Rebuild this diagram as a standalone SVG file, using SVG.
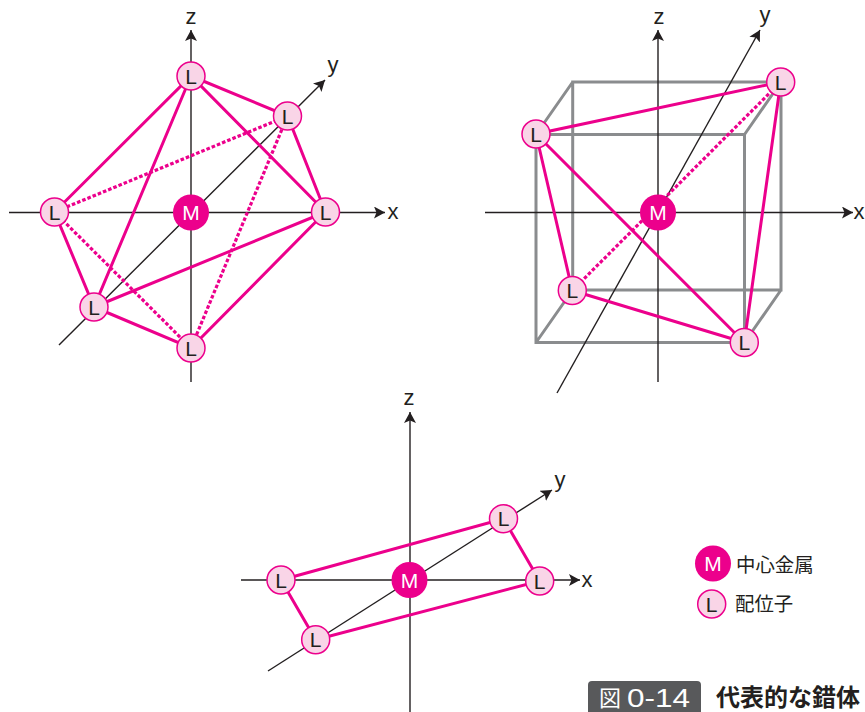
<svg xmlns="http://www.w3.org/2000/svg" width="865" height="712" viewBox="0 0 865 712">
<style>
.ax{stroke:#231f20;stroke-width:1.4;fill:none}
.b{stroke:#ec008c;stroke-width:3;fill:none}
.d{stroke:#ec008c;stroke-width:3.2;fill:none;stroke-dasharray:3.6 2}
.c{stroke:#8a8c8e;stroke-width:3;fill:none}
.l circle{fill:#f9d5e7;stroke:#ec008c;stroke-width:1.5}
.m circle{fill:#ec008c}
.l text{font-size:21px;fill:#231f20;font-family:"Liberation Sans",sans-serif;text-anchor:middle}
.m text{font-size:21px;fill:#fff;font-family:"Liberation Sans",sans-serif;text-anchor:middle}
.a{font-size:22px;fill:#231f20;font-family:"Liberation Sans",sans-serif;text-anchor:middle}
.j{font-size:19.4px;fill:#231f20;font-family:"Noto Sans CJK JP",sans-serif}
</style>
<defs>
<marker id="ah" markerUnits="userSpaceOnUse" markerWidth="14" markerHeight="14" refX="11" refY="6" orient="auto"><path d="M0 0L11 6L0 12L2.5 6Z" fill="#231f20"/></marker>
</defs>
<g id="connectors">
<g id="cube">
<path class="c" d="M536 134.5H744.5V342.5H536ZM572.7 82H781V290H572.7ZM536 134.5L572.7 82M744.5 134.5L781 82M536 342.5L572.7 290M744.5 342.5L781 290"/>
</g>
<g id="axes">
<path class="ax" marker-end="url(#ah)" d="M9 212.5H385"/>
<path class="ax" marker-end="url(#ah)" d="M191 382V30"/>
<path class="ax" marker-end="url(#ah)" d="M59 345L325 80"/>
<path class="ax" marker-end="url(#ah)" d="M485 212.5H853"/>
<path class="ax" marker-end="url(#ah)" d="M658 382V30"/>
<path class="ax" marker-end="url(#ah)" d="M557 393L760 30"/>
<path class="ax" marker-end="url(#ah)" d="M241 580H580"/>
<path class="ax" marker-end="url(#ah)" d="M410 712V412"/>
<path class="ax" marker-end="url(#ah)" d="M268 671L552 490"/>
</g>
<g id="bonds">
<path class="b" d="M191 76L287.5 116L325.5 212L191 76L54.5 212L94 307L191 76M94 307L325.5 212L191 348L94 307"/>
<path class="d" d="M287.5 116L54.5 212L191 348L287.5 116"/>
<path class="b" d="M780.7 82L536 134L572.3 290.5L744.3 342.5L536 134M780.7 82L744.3 342.5"/>
<path class="d" d="M780.7 82L572.3 290.5"/>
<path class="b" d="M281 580L503.5 518.7L539.7 581L315.7 639.7L281 580"/>
</g>
</g>
<g id="m1" class="m"><circle cx="191" cy="212.5" r="18"/><text x="191" y="220">M</text></g>
<g id="l1a" class="l"><circle cx="191" cy="76" r="14"/><text x="191" y="83.5">L</text></g>
<g id="l1b" class="l"><circle cx="287.5" cy="116" r="14"/><text x="287.5" y="123.5">L</text></g>
<g id="l1c" class="l"><circle cx="325.5" cy="212" r="14"/><text x="325.5" y="219.5">L</text></g>
<g id="l1d" class="l"><circle cx="54.5" cy="212" r="14"/><text x="54.5" y="219.5">L</text></g>
<g id="l1e" class="l"><circle cx="94" cy="307" r="14"/><text x="94" y="314.5">L</text></g>
<g id="l1f" class="l"><circle cx="191" cy="348" r="14"/><text x="191" y="355.5">L</text></g>
<g id="m2" class="m"><circle cx="658" cy="212.5" r="18"/><text x="658" y="220">M</text></g>
<g id="l2a" class="l"><circle cx="780.7" cy="82" r="14"/><text x="780.7" y="89.5">L</text></g>
<g id="l2b" class="l"><circle cx="536" cy="134" r="14"/><text x="536" y="141.5">L</text></g>
<g id="l2c" class="l"><circle cx="572.3" cy="290.5" r="14"/><text x="572.3" y="298">L</text></g>
<g id="l2d" class="l"><circle cx="744.3" cy="342.5" r="14"/><text x="744.3" y="350">L</text></g>
<g id="m3" class="m"><circle cx="409.5" cy="580" r="18"/><text x="409.5" y="587.5">M</text></g>
<g id="l3a" class="l"><circle cx="503.5" cy="518.7" r="14"/><text x="503.5" y="526.2">L</text></g>
<g id="l3b" class="l"><circle cx="539.7" cy="581" r="14"/><text x="539.7" y="588.5">L</text></g>
<g id="l3c" class="l"><circle cx="281" cy="580" r="14"/><text x="281" y="587.5">L</text></g>
<g id="l3d" class="l"><circle cx="315.7" cy="639.7" r="14"/><text x="315.7" y="647.2">L</text></g>
<g id="labels">
<text class="a" x="191" y="24">z</text><text class="a" x="393" y="219">x</text><text class="a" x="333" y="72">y</text>
<text class="a" x="659" y="24">z</text><text class="a" x="859" y="219">x</text><text class="a" x="765" y="22">y</text>
<text class="a" x="409" y="405">z</text><text class="a" x="587" y="587">x</text><text class="a" x="560" y="487">y</text>
</g>
<g id="legend-m" class="m"><circle cx="713" cy="563.5" r="18"/><text x="713" y="570.5">M</text></g>
<text class="j" x="736" y="572">中心金属</text>
<g id="legend-l" class="l"><circle cx="711.7" cy="604" r="14"/><text x="711.7" y="611.5">L</text></g>
<text class="j" x="735" y="611">配位子</text>
<g id="caption">
<path d="M588 712V685a4 4 0 0 1 4-4H697a4 4 0 0 1 4 4V712Z" fill="#58595b"/>
<text x="599" y="706" font-size="22" fill="#fff" font-family="Noto Sans CJK JP,sans-serif">図</text>
<text x="627" y="707" font-size="25" textLength="63" lengthAdjust="spacingAndGlyphs" fill="#fff" font-family="Liberation Sans,sans-serif">0-14</text>
<text x="716" y="706" font-size="24" font-weight="700" fill="#231f20" font-family="Noto Sans CJK JP,sans-serif">代表的な錯体</text>
</g>
</svg>
